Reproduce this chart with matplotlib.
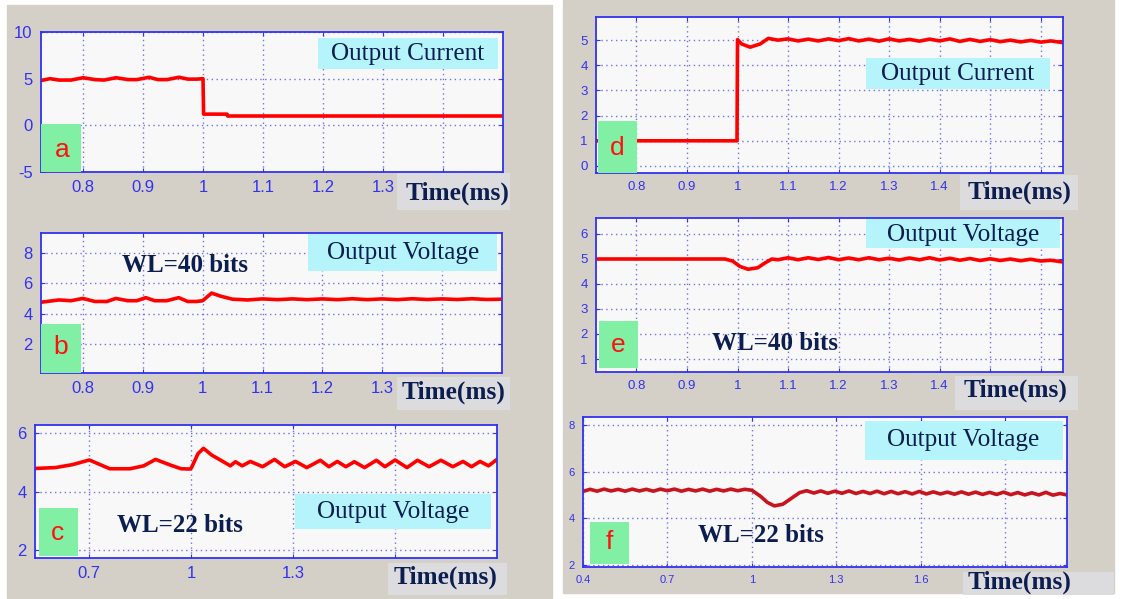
import matplotlib
matplotlib.use("Agg")
import matplotlib.pyplot as plt
from matplotlib.patches import Rectangle

# --- data (time in ms) ---
A_T = [0.73, 0.745, 0.76, 0.78, 0.80, 0.82, 0.835, 0.855, 0.875, 0.89, 0.91, 0.925,
       0.94, 0.96, 0.975, 0.99, 1.0, 1.001, 1.04, 1.041, 1.5]
A_I = [4.8, 5.0, 4.85, 4.85, 5.1, 4.9, 4.85, 5.1, 4.9, 4.9, 5.15, 4.9,
       4.9, 5.15, 4.95, 4.95, 5.0, 1.2, 1.2, 1.0, 1.0]

B_T = [0.73, 0.76, 0.78, 0.80, 0.82, 0.84, 0.855, 0.875, 0.89, 0.905, 0.92, 0.94,
       0.96, 0.975, 0.99, 1.0, 1.015, 1.03, 1.05, 1.075, 1.10, 1.125, 1.15, 1.175,
       1.20, 1.225, 1.25, 1.275, 1.30, 1.325, 1.35, 1.375, 1.40, 1.425, 1.45, 1.475, 1.50]
B_V = [4.75, 4.9, 4.85, 5.0, 4.8, 4.8, 5.0, 4.85, 4.85, 5.05, 4.85, 4.85,
       5.05, 4.8, 4.8, 4.85, 5.35, 5.15, 4.95, 4.9, 4.97, 4.92, 4.97, 4.92,
       4.97, 4.92, 4.98, 4.92, 4.97, 4.92, 4.98, 4.93, 4.97, 4.93, 4.98, 4.93, 4.95]

C_T = [0.54, 0.6, 0.65, 0.7, 0.76, 0.82, 0.86, 0.895, 0.94, 0.97, 0.995, 1.0,
       1.02, 1.036, 1.06, 1.09, 1.115, 1.13, 1.15, 1.174, 1.21, 1.245, 1.275, 1.307,
       1.34, 1.38, 1.405, 1.43, 1.455, 1.48, 1.51, 1.545, 1.57, 1.6, 1.635, 1.666,
       1.70, 1.735, 1.77, 1.80, 1.825, 1.85, 1.875, 1.9]
C_V = [4.79, 4.82, 4.92, 5.08, 4.78, 4.78, 4.88, 5.1, 4.9, 4.78, 4.77, 4.8,
       5.3, 5.48, 5.25, 5.05, 4.88, 5.02, 4.88, 5.03, 4.85, 5.1, 4.85, 5.03,
       4.82, 5.07, 4.85, 5.03, 4.85, 5.02, 4.82, 5.07, 4.85, 5.08, 4.82, 5.07,
       4.85, 5.07, 4.85, 5.03, 4.85, 5.03, 4.88, 5.1]

D_T = [0.72, 0.80, 0.90, 0.999, 1.0, 1.008, 1.025, 1.045, 1.061, 1.08,
       1.10, 1.12, 1.14, 1.16, 1.18, 1.20, 1.22, 1.24, 1.26, 1.28,
       1.30, 1.32, 1.34, 1.36, 1.38, 1.40, 1.42, 1.44, 1.46, 1.48,
       1.50, 1.52, 1.54, 1.56, 1.58, 1.60, 1.62, 1.644]
D_I = [1.0, 1.0, 1.0, 1.0, 5.02, 4.85, 4.72, 4.85, 5.07, 5.0,
       5.05, 4.97, 5.04, 4.97, 5.05, 4.98, 5.06, 4.97, 5.04, 4.96,
       5.05, 4.97, 5.03, 4.96, 5.04, 4.97, 5.05, 4.95, 5.03, 4.95,
       5.02, 4.94, 5.0, 4.93, 4.99, 4.92, 4.97, 4.9]

E_T = [0.72, 0.80, 0.90, 0.975, 0.99, 1.005, 1.021, 1.04, 1.055, 1.068,
       1.08, 1.10, 1.12, 1.14, 1.16, 1.18, 1.20, 1.22, 1.24, 1.26,
       1.28, 1.30, 1.32, 1.34, 1.36, 1.38, 1.40, 1.42, 1.44, 1.46,
       1.48, 1.50, 1.52, 1.54, 1.56, 1.58, 1.60, 1.62, 1.644]
E_V = [5.0, 5.0, 5.0, 5.0, 4.92, 4.7, 4.59, 4.65, 4.85, 5.0,
       4.97, 5.05, 4.97, 5.05, 4.98, 5.06, 4.97, 5.04, 4.97, 5.05,
       4.97, 5.03, 4.96, 5.04, 4.97, 5.05, 4.96, 5.03, 4.95, 5.02,
       4.94, 5.01, 4.94, 5.0, 4.93, 4.99, 4.92, 4.95, 4.88]

F_T = [0.40, 0.425, 0.45, 0.475, 0.50, 0.525, 0.55, 0.575, 0.60, 0.625, 0.65, 0.675,
       0.70, 0.725, 0.75, 0.775, 0.80, 0.825, 0.85, 0.875, 0.90, 0.925, 0.95, 0.975, 1.0,
       1.03, 1.055, 1.08, 1.11, 1.14, 1.17,
       1.195, 1.22, 1.245, 1.27, 1.295, 1.32, 1.345, 1.37, 1.395, 1.42, 1.445, 1.47,
       1.495, 1.52, 1.545, 1.57, 1.595, 1.62, 1.645, 1.67, 1.695, 1.72, 1.745, 1.77,
       1.795, 1.82, 1.845, 1.87, 1.895, 1.92, 1.945, 1.97, 1.995, 2.02, 2.045, 2.07,
       2.095, 2.12]
F_V = [5.15, 5.24, 5.16, 5.25, 5.17, 5.24, 5.16, 5.25, 5.17, 5.24, 5.16, 5.25,
       5.18, 5.25, 5.16, 5.24, 5.17, 5.25, 5.16, 5.24, 5.17, 5.25, 5.18, 5.24, 5.2,
       4.95, 4.68, 4.53, 4.6, 4.85, 5.1,
       5.18, 5.08, 5.17, 5.07, 5.16, 5.07, 5.17, 5.06, 5.15, 5.06, 5.16, 5.05,
       5.15, 5.05, 5.14, 5.04, 5.15, 5.04, 5.13, 5.04, 5.12, 5.03, 5.13, 5.03,
       5.12, 5.02, 5.11, 5.02, 5.12, 5.01, 5.1, 5.0, 5.09, 5.0, 5.11, 4.99,
       5.06, 5.0]

# grid positions; labels hidden under the "Time(ms)" boxes are left blank
X_TICKS_AB = [0.8, 0.9, 1.0, 1.1, 1.2, 1.3, 1.4]
X_LABELS_AB = ["0.8", "0.9", "1", "1.1", "1.2", "1.3", ""]
X_TICKS_C = [0.7, 1.0, 1.3, 1.6]
X_LABELS_C = ["0.7", "1", "1.3", ""]
X_TICKS_DE = [0.8, 0.9, 1.0, 1.1, 1.2, 1.3, 1.4, 1.5, 1.6]
X_LABELS_DE = ["0.8", "0.9", "1", "1.1", "1.2", "1.3", "1.4", "", ""]
X_TICKS_F = [0.4, 0.7, 1.0, 1.3, 1.6, 1.9]
X_LABELS_F = ["0.4", "0.7", "1", "1.3", "1.6", ""]

W, H = 1124, 599
BG = "#d4d0c8"
CYAN = "#b4f4fa"
GREEN = "#82f0a4"
TBOX = "#dcdcdf"
NAVY = "#0c1d50"
BLUE = "#3232f0"
GRID = "#7070f0"

fig = plt.figure(figsize=(W / 100, H / 100), dpi=100)
fig.patch.set_facecolor("white")


def px_axes(l, t, r, b, zorder=0):
    return fig.add_axes([l / W, 1 - b / H, (r - l) / W, (b - t) / H], zorder=zorder)


# grey window backgrounds
bg = px_axes(0, 0, W, H, zorder=-5)
bg.set_xlim(0, W)
bg.set_ylim(H, 0)
bg.axis("off")
bg.add_patch(Rectangle((7, 5), 545, 593, color=BG))
bg.add_patch(Rectangle((563, 0), 551, 593, color=BG))


def scope(box, t, v, xlim, ylim, xt, xl, yt, tick_fs, color="#ff0000"):
    ax = px_axes(*box)
    ax.set_facecolor("#f8f8f8")
    ax.plot(t, v, color=color, lw=2.6, solid_joinstyle="round")
    ax.set_xlim(*xlim)
    ax.set_ylim(*ylim)
    ax.set_xticks(xt)
    ax.set_xticklabels(xl)
    ax.set_yticks(yt)
    ax.set_yticklabels([str(y) for y in yt])
    ax.grid(True, color=GRID, ls=(0, (1, 2.5)), lw=1.0)
    for s in ax.spines.values():
        s.set_color(BLUE)
        s.set_linewidth(1.3)
    ax.tick_params(direction="in", length=3, color=BLUE, labelcolor=BLUE,
                   top=True, right=True, labelsize=tick_fs, pad=6)
    for lab in ax.get_xticklabels() + ax.get_yticklabels():
        lab.set_fontfamily("Liberation Sans")
    return ax


scope((41, 32, 503, 172), A_T, A_I, (0.73, 1.5), (-5, 10), X_TICKS_AB, X_LABELS_AB,
      [-5, 0, 5, 10], 12)
scope((41, 233, 502, 373), B_T, B_V, (0.73, 1.5), (0.1, 9.3), X_TICKS_AB, X_LABELS_AB,
      [2, 4, 6, 8], 12)
scope((35, 425, 497, 558), C_T, C_V, (0.54, 1.9), (1.72, 6.28), X_TICKS_C, X_LABELS_C,
      [2, 4, 6], 12)
scope((596, 17, 1063, 173), D_T, D_I, (0.72, 1.644), (-0.28, 5.92), X_TICKS_DE, X_LABELS_DE,
      [0, 1, 2, 3, 4, 5], 9.5)
scope((596, 218, 1063, 372), E_T, E_V, (0.72, 1.644), (0.48, 6.64), X_TICKS_DE, X_LABELS_DE,
      [1, 2, 3, 4, 5, 6], 9.5)
scope((583, 417, 1067, 567), F_T, F_V, (0.4, 2.12), (1.91, 8.34), X_TICKS_F, X_LABELS_F,
      [2, 4, 6, 8], 8, color="#c8141e")

# annotation overlay, in pixel coordinates
ov = px_axes(0, 0, W, H, zorder=10)
ov.set_xlim(0, W)
ov.set_ylim(H, 0)
ov.axis("off")


def box(x0, y0, x1, y1, color):
    ov.add_patch(Rectangle((x0, y0), x1 - x0, y1 - y0, color=color, lw=0))


def txt(x, y, s, size, bold=False, color=NAVY, family="Liberation Serif"):
    ov.text(x, y, s, fontsize=size, color=color, family=family,
            fontweight="bold" if bold else "normal", ha="center", va="center")


# signal name boxes
names = [((318, 38, 498, 69), (408, 54), "Output Current"),
         ((308, 234, 497, 271), (403, 253), "Output Voltage"),
         ((295, 494, 491, 529), (393, 512), "Output Voltage"),
         ((866, 58, 1050, 89), (958, 74), "Output Current"),
         ((866, 219, 1060, 248), (963, 235), "Output Voltage"),
         ((865, 421, 1063, 460), (963, 440), "Output Voltage")]
for b, c, s in names:
    box(*b, CYAN)
    txt(*c, s, 18.2)

# time axis label boxes
times = [((397, 173, 510, 210), (457, 193)),
         ((397, 377, 510, 410), (453, 392)),
         ((388, 563, 507, 595), (445, 577)),
         ((960, 175, 1078, 210), (1020, 192)),
         ((955, 376, 1078, 410), (1015, 390)),
         ((963, 572, 1114, 595), (1020, 582))]
for b, c in times:
    box(*b, TBOX)
    txt(*c, "Time(ms)", 18.3, bold=True)

# word length labels
txt(185, 266, "WL=40 bits", 18, bold=True)
txt(180, 526, "WL=22 bits", 18, bold=True)
txt(775, 343, "WL=40 bits", 18, bold=True)
txt(761, 535, "WL=22 bits", 18, bold=True)

# panel letters
letters = [((41, 124, 81, 172), (62, 150), "a"),
           ((41, 324, 81, 373), (61, 347), "b"),
           ((39, 508, 78, 556), (58, 533), "c"),
           ((598, 121, 637, 173), (617, 148), "d"),
           ((599, 321, 638, 368), (618, 345), "e"),
           ((590, 522, 629, 564), (609, 542), "f")]
for b, c, s in letters:
    box(*b, GREEN)
    txt(*c, s, 19, color="#ff1010", family="Liberation Sans")

fig.savefig("out.png", dpi=100, facecolor=fig.get_facecolor())
